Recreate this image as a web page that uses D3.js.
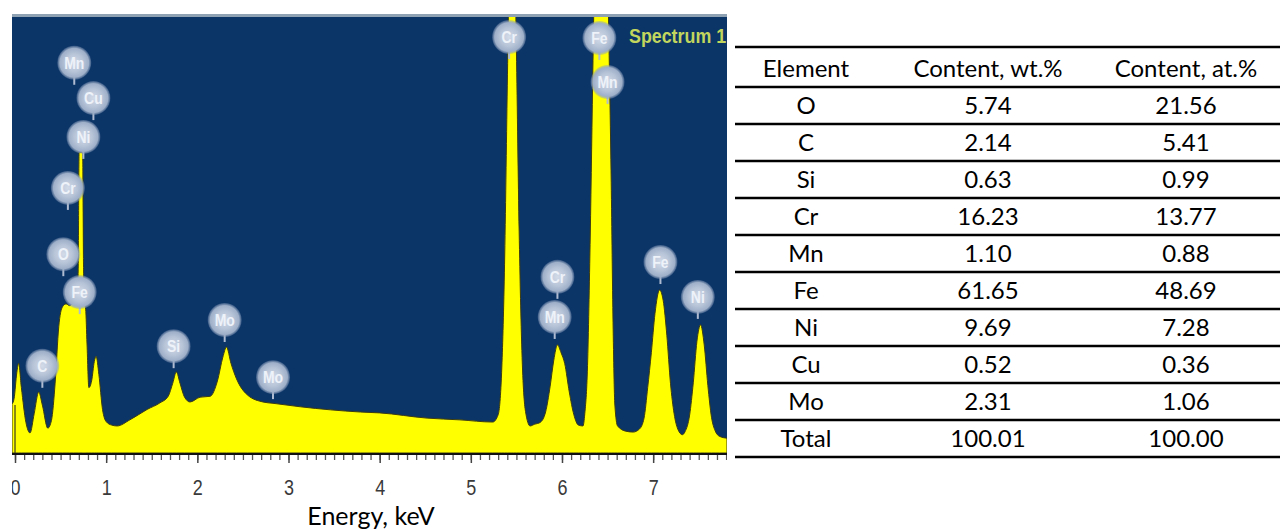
<!DOCTYPE html>
<html>
<head>
<meta charset="utf-8">
<script src="https://cdn.jsdelivr.net/npm/d3@7"></script>
<style>
  html, body { margin: 0; padding: 0; background: #fff; }
  svg { display: block; }
</style>
</head>
<body>
<div id="chart"></div>
<script>
// spectrum (energy in keV, counts in arbitrary units, 1000 = top of frame)
var energy = [-0.033, -0.01, 0.02, 0.04, 0.07, 0.12, 0.165, 0.21, 0.26, 0.30, 0.36, 0.40, 0.44, 0.48, 0.52, 0.56, 0.60, 0.64, 0.68,
  0.693, 0.703, 0.742, 0.752, 0.762, 0.775, 0.79, 0.81, 0.84, 0.87, 0.89, 0.92, 0.96, 1.00, 1.06, 1.12, 1.26, 1.45, 1.59, 1.68,
  1.73, 1.77, 1.81, 1.86, 1.92, 2.03, 2.14, 2.22, 2.28, 2.32, 2.37, 2.43, 2.55, 2.72, 2.83, 3.13, 3.46, 3.79, 4.00, 4.52, 4.88,
  5.24, 5.30, 5.34, 5.37, 5.40, 5.43, 5.45, 5.47, 5.50, 5.53, 5.56, 5.60, 5.65, 5.70, 5.76, 5.82, 5.87, 5.91, 5.95, 5.99, 6.03,
  6.08, 6.13, 6.18, 6.23, 6.25, 6.28, 6.31, 6.34, 6.38, 6.42, 6.46, 6.51, 6.54, 6.56, 6.58, 6.61, 6.70, 6.78, 6.85, 6.90, 6.94,
  6.98, 7.02, 7.07, 7.11, 7.15, 7.19, 7.23, 7.27, 7.32, 7.35, 7.40, 7.44, 7.48, 7.52, 7.56, 7.60, 7.64, 7.68, 7.73, 7.81];
var counts = [112, 125, 185, 206, 150, 70, 46, 90, 140, 110, 57, 75, 160, 290, 335, 342, 338, 345, 352,
  420, 690, 690, 420, 345, 330, 250, 150, 165, 210, 222, 180, 100, 72, 64, 62, 76, 100, 115, 130,
  160, 186, 160, 128, 117, 128, 130, 165, 220, 243, 205, 170, 133, 117, 114, 106, 99, 94, 92, 80, 76,
  71, 88, 197, 433, 842, 1228, 1343, 1280, 923, 509, 235, 95, 62, 66, 70, 94, 153, 213, 248, 230, 205,
  140, 88, 64, 62, 90, 200, 500, 900, 1400, 1700, 1500, 1000, 620, 300, 110, 62, 50, 48, 55, 80, 150,
  230, 320, 374, 350, 270, 160, 90, 55, 42, 49, 87, 161, 256, 294, 248, 155, 82, 51, 38, 34];

// peak markers: element, energy (keV), counts level of marker
var markerNames = ["Mn", "Cu", "Ni", "Cr", "O", "Fe", "C", "Si", "Mo", "Mo", "Cr", "Fe", "Mn", "Cr", "Mn", "Fe", "Ni"];
var markerEnergy = [0.65, 0.86, 0.75, 0.58, 0.53, 0.71, 0.30, 1.74, 2.30, 2.83, 5.42, 6.41, 6.50, 5.95, 5.92, 7.08, 7.49];
var markerLevel = [895, 814, 725, 608, 456, 369, 200, 245, 305, 174, 954, 952, 851, 404, 312, 438, 358];

var tickLabels = ["0", "1", "2", "3", "4", "5", "6", "7"];

// table
var headers = ["Element", "Content, wt.%", "Content, at.%"];
var elements = ["O", "C", "Si", "Cr", "Mn", "Fe", "Ni", "Cu", "Mo", "Total"];
var wtPct = ["5.74", "2.14", "0.63", "16.23", "1.10", "61.65", "9.69", "0.52", "2.31", "100.01"];
var atPct = ["21.56", "5.41", "0.99", "13.77", "0.88", "48.69", "7.28", "0.36", "1.06", "100.00"];

var width = 1280, height = 530;
var narrow = "'Liberation Sans Narrow', 'Arial Narrow', 'Liberation Sans', Arial, sans-serif";

var svg = d3.select("#chart").append("svg")
  .attr("width", width)
  .attr("height", height);

var defs = svg.append("defs");

defs.append("clipPath").attr("id", "plotClip")
  .append("rect").attr("x", 12).attr("y", 17).attr("width", 715).attr("height", 436);
defs.append("clipPath").attr("id", "axisClip")
  .append("rect").attr("x", 12).attr("y", 440).attr("width", 715).attr("height", 70);

var grad = defs.append("radialGradient").attr("id", "bubble");
grad.append("stop").attr("offset", "0%").attr("stop-color", "#d3dbe8");
grad.append("stop").attr("offset", "55%").attr("stop-color", "#b6c3d7");
grad.append("stop").attr("offset", "85%").attr("stop-color", "#9eafc8");
grad.append("stop").attr("offset", "100%").attr("stop-color", "#8a9dbb").attr("stop-opacity", 0.35);

var x = d3.scaleLinear().domain([-0.033, 7.81]).range([12, 727]);
var y = d3.scaleLinear().domain([0, 1000]).range([453, 17]);

var spectrum = energy.map(function(e, i) { return { e: e, c: counts[i] }; });

// spectrum panel
var plot = svg.append("g").attr("clip-path", "url(#plotClip)");

plot.append("rect")
  .attr("x", 12).attr("y", 15).attr("width", 715).attr("height", 440)
  .style("fill", "#0b3467");

var area = d3.area()
  .x(function(d) { return x(d.e); })
  .y0(y(0))
  .y1(function(d) { return y(d.c); })
  .curve(d3.curveMonotoneX);

plot.append("path")
  .datum(spectrum)
  .attr("d", area)
  .style("fill", "#ffff00")
  .style("stroke", "#3d3d12")
  .style("stroke-width", 1);

// zero line
plot.append("line")
  .attr("x1", x(0)).attr("x2", x(0))
  .attr("y1", y(0)).attr("y2", y(110))
  .style("stroke", "#3a3a20").style("stroke-width", 1.2);

plot.append("text")
  .attr("transform", "translate(629,43) scale(0.85,1)")
  .text("Spectrum 1")
  .style("font-family", narrow)
  .style("font-weight", "bold")
  .style("font-size", "21px")
  .style("fill", "#c2d65e");

// peak markers
var markers = plot.selectAll(".marker")
  .data(markerNames.map(function(n, i) { return { name: n, e: markerEnergy[i], c: markerLevel[i] }; }))
  .enter().append("g")
  .attr("class", "marker")
  .attr("transform", function(d) { return "translate(" + x(d.e) + "," + y(d.c) + ")"; });

markers.append("line")
  .attr("x1", 0).attr("x2", 0).attr("y1", 12).attr("y2", 22)
  .style("stroke", "#aebbd0").style("stroke-width", 2);

markers.append("circle")
  .attr("r", 17)
  .style("fill", "url(#bubble)");

markers.append("text")
  .attr("text-anchor", "middle")
  .attr("y", 6)
  .attr("transform", "scale(0.82,1)")
  .text(function(d) { return d.name; })
  .style("font-family", narrow)
  .style("font-weight", "bold")
  .style("font-size", "17px")
  .style("fill", "#eef2f9");

// frame top edge
svg.append("rect")
  .attr("x", 12).attr("y", 14).attr("width", 715).attr("height", 3)
  .style("fill", "#8fa2b4");

// baseline + ticks
svg.append("line")
  .attr("x1", 12).attr("x2", 727).attr("y1", 454).attr("y2", 454)
  .style("stroke", "#111").style("stroke-width", 2);

var axisG = svg.append("g").attr("clip-path", "url(#axisClip)");

var minor = axisG.append("g")
  .attr("transform", "translate(0,455)")
  .call(d3.axisBottom(x).tickValues(d3.range(0, 7.81, 0.1)).tickSize(5).tickFormat(""));
minor.select(".domain").remove();
minor.selectAll("line").style("stroke", "#555").style("stroke-width", 1.3);

var major = axisG.append("g")
  .attr("transform", "translate(0,455)")
  .call(d3.axisBottom(x).tickValues(tickLabels.map(Number)).tickSize(8)
    .tickFormat(function(d, i) { return tickLabels[i]; }));
major.select(".domain").remove();
major.selectAll("line").style("stroke", "#444").style("stroke-width", 1.5);
major.selectAll("text")
  .attr("y", 0).attr("dy", 0)
  .attr("transform", "translate(0,40) scale(0.9,1.1)")
  .style("font-family", narrow)
  .style("font-size", "20px")
  .style("fill", "#3a3a3a");

svg.append("text")
  .attr("x", 371).attr("y", 525)
  .attr("text-anchor", "middle")
  .text("Energy, keV")
  .style("font-family", "Lato, 'Open Sans', sans-serif")
  .style("font-size", "25px")
  .style("fill", "#000");

// table
var colX = [806, 988, 1186];
var rowY = d3.scaleLinear().domain([0, 1]).range([87, 124]);

var table = svg.append("g").attr("class", "table")
  .style("font-family", "Lato, 'Open Sans', sans-serif")
  .style("font-size", "24px")
  .style("fill", "#000");

var lineYs = [47].concat(d3.range(0, elements.length + 1).map(function(i) { return rowY(i); }));
table.selectAll(".hline")
  .data(lineYs)
  .enter().append("line")
  .attr("x1", 735).attr("x2", 1280)
  .attr("y1", function(d) { return d; }).attr("y2", function(d) { return d; })
  .style("stroke", "#000").style("stroke-width", 2.5);

table.selectAll(".head")
  .data(headers)
  .enter().append("text")
  .attr("x", function(d, i) { return colX[i]; })
  .attr("y", 77)
  .attr("text-anchor", "middle")
  .text(function(d) { return d; });

var rows = table.selectAll(".row")
  .data(elements.map(function(el, i) { return [el, wtPct[i], atPct[i]]; }))
  .enter().append("g")
  .attr("transform", function(d, i) { return "translate(0," + (rowY(i + 1) - 10) + ")"; });

rows.selectAll("text")
  .data(function(d) { return d; })
  .enter().append("text")
  .attr("x", function(d, i) { return colX[i]; })
  .attr("text-anchor", "middle")
  .text(function(d) { return d; });
</script>
</body>
</html>
